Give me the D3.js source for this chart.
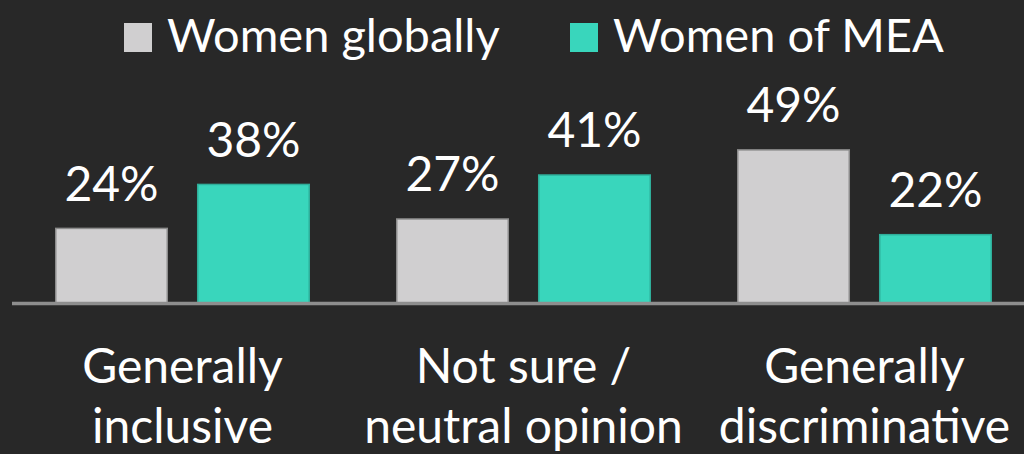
<!DOCTYPE html>
<html>
<head>
<meta charset="utf-8">
<script src="https://cdn.jsdelivr.net/npm/d3@7"></script>
<style>
  html, body { margin: 0; padding: 0; background: #282828; }
  svg { display: block; }
  text { font-family: Lato, "Open Sans", sans-serif; fill: #ffffff; }
</style>
</head>
<body>
<svg id="chart" width="1024" height="454"></svg>
<script>
// Survey answers: how women view their workplace
const categories = [["Generally", "inclusive"], ["Not sure /", "neutral opinion"], ["Generally", "discriminative"]];
const seriesNames = ["Women globally", "Women of MEA"];
const globalValues = [24, 27, 49];
const meaValues = [38, 41, 22];
const seriesColors = ["#d0cfd0", "#39d6bc"];
const seriesStrokes = ["#8c8c8c", "#2fae9a"];

const W = 1024, H = 454;
const svg = d3.select("#chart");
const condense = 1.0; // horizontal squeeze applied to all text

const keys = categories.map(c => c.join(" "));
const x0 = d3.scaleBand().domain(keys).range([12, 1035]).paddingInner(0.2522).paddingOuter(0.1261);
const x1 = d3.scaleBand().domain(seriesNames).range([0, x0.bandwidth()]).paddingInner(0.204).paddingOuter(0);
const y = d3.scaleLinear().domain([0, 50]).range([303, 146]);

const rows = keys.map((k, i) => ({ key: k, values: [globalValues[i], meaValues[i]] }));

function squeeze(sel) {
  sel.each(function () {
    const t = d3.select(this);
    const w = this.getComputedTextLength();
    t.attr("textLength", w * condense).attr("lengthAdjust", "spacingAndGlyphs");
  });
}

const groups = svg.append("g").selectAll("g").data(rows).join("g")
  .attr("transform", d => `translate(${x0(d.key)},0)`);

groups.selectAll("rect").data(d => d.values.map((v, j) => ({ v, s: seriesNames[j], j })))
  .join("rect")
  .attr("x", d => x1(d.s) + 0.75)
  .attr("y", d => y(d.v) + 0.75)
  .attr("width", x1.bandwidth() - 1.5)
  .attr("height", d => y(0) - y(d.v))
  .attr("fill", d => seriesColors[d.j])
  .attr("stroke", d => seriesStrokes[d.j])
  .attr("stroke-width", 1.5);

groups.selectAll("text.val").data(d => d.values.map((v, j) => ({ v, s: seriesNames[j] })))
  .join("text")
  .attr("class", "val")
  .attr("x", d => x1(d.s) + x1.bandwidth() / 2)
  .attr("y", d => y(d.v) - 27)
  .attr("text-anchor", "middle")
  .style("font-size", "48px")
  .text(d => d.v + "%")
  .call(squeeze);

// baseline
svg.append("line")
  .attr("x1", 12).attr("x2", W)
  .attr("y1", y(0) + 0.5).attr("y2", y(0) + 0.5)
  .attr("stroke", "#8e8e8e").attr("stroke-width", 3.5);

// category labels, two lines each
const catG = svg.append("g");
rows.forEach((r, i) => {
  const cx = x0(r.key) + x0.bandwidth() / 2;
  categories[i].forEach((line, li) => {
    catG.append("text")
      .attr("x", cx)
      .attr("y", 383 + li * 60)
      .attr("text-anchor", "middle")
      .style("font-size", "48px")
      .text(line)
      .call(squeeze);
  });
});

// legend
const legendX = [124, 570];
const legend = svg.append("g").selectAll("g").data(seriesNames).join("g")
  .attr("transform", (d, i) => `translate(${legendX[i]},0)`);
legend.append("rect")
  .attr("x", 0).attr("y", 23).attr("width", 28).attr("height", 29)
  .attr("fill", (d, i) => seriesColors[i]);
legend.append("text")
  .attr("x", 43).attr("y", 52)
  .style("font-size", "47px")
  .text(d => d)
  .call(squeeze);
</script>
</body>
</html>
